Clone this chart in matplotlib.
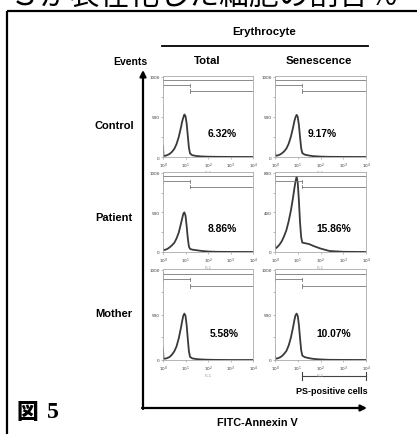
import matplotlib
matplotlib.use('Agg')
import matplotlib.pyplot as plt

W, H = 417, 435

fl1_log = [0.0, 0.02, 0.1, 0.2, 0.3, 0.4, 0.5, 0.6, 0.7, 0.8, 0.85, 0.9, 0.95,
           1.0, 1.05, 1.1, 1.15, 1.2, 1.3, 1.5, 1.7, 2.0, 2.4, 3.0, 4.0]

# event counts, one list per panel
ctrl_total = [140, 15, 15, 25, 40, 65, 100, 160, 250, 370, 440, 490, 530,
              510, 420, 270, 120, 45, 22, 12, 7, 4, 2, 1, 0]
ctrl_sen = [60, 15, 18, 28, 45, 70, 105, 165, 255, 375, 445, 495, 525,
            500, 400, 250, 110, 50, 30, 18, 10, 5, 2, 1, 0]
pat_total = [40, 25, 28, 40, 60, 85, 115, 170, 245, 360, 420, 480, 500,
             460, 330, 180, 70, 40, 30, 22, 14, 6, 2, 1, 0]
pat_sen = [70, 35, 50, 75, 110, 160, 220, 310, 420, 560, 640, 710, 760,
           700, 520, 300, 150, 95, 90, 80, 60, 35, 10, 2, 0]
mom_total = [130, 15, 15, 22, 35, 60, 95, 150, 240, 360, 430, 490, 515,
             490, 390, 240, 100, 35, 18, 10, 6, 3, 1, 0, 0]
mom_sen = [35, 15, 17, 27, 42, 68, 100, 160, 250, 370, 440, 495, 515,
           490, 390, 245, 110, 50, 32, 20, 12, 6, 2, 1, 0]

rows = ['Control', 'Patient', 'Mother']
cols = ['Total', 'Senescence']
counts = [[ctrl_total, ctrl_sen], [pat_total, pat_sen], [mom_total, mom_sen]]
percents = [['6.32%', '9.17%'], ['8.86%', '15.86%'], ['5.58%', '10.07%']]
ymax = [[1000, 1000], [1000, 800], [1000, 1000]]
gate_split = 1.2  # PS-positive boundary, log10 FL1

sans = 'Liberation Sans'

fig = plt.figure(figsize=(W / 100, H / 100), dpi=100)

# overlay in pixel coordinates for frame, arrows and labels
ov = fig.add_axes([0, 0, 1, 1])
ov.set_xlim(0, W)
ov.set_ylim(H, 0)
ov.axis('off')

# caption line above, cut by the page edge as in the scan
ov.text(-20, 5, 'ＰＳが表在化した細胞の割合％', fontsize=21.5,
        family='Noto Sans CJK JP', va='baseline', ha='left')
ov.add_patch(plt.Rectangle((7, 12), 440, 450, fill=False, lw=1.6, color='k'))

ov.text(264, 32, 'Erythrocyte', family=sans, weight='bold', fontsize=8.2,
        ha='center', va='center')
ov.plot([162, 368], [47, 47], color='k', lw=1.3)
ov.text(130, 62, 'Events', family=sans, weight='bold', fontsize=7.5,
        ha='center', va='center')
ov.text(207, 61, cols[0], family=sans, weight='bold', fontsize=8.2,
        ha='center', va='center')
ov.text(319, 61, cols[1], family=sans, weight='bold', fontsize=8.2,
        ha='center', va='center')

ov.annotate('', xy=(143, 71), xytext=(143, 410),
            arrowprops=dict(arrowstyle='-|>', lw=1.6, color='k', mutation_scale=9,
                            shrinkA=0, shrinkB=0))
ov.annotate('', xy=(367, 409), xytext=(142, 409),
            arrowprops=dict(arrowstyle='-|>', lw=1.6, color='k', mutation_scale=9,
                            shrinkA=0, shrinkB=0))
ov.text(257, 423, 'FITC-Annexin V', family=sans, weight='bold', fontsize=7.8,
        ha='center', va='center')

ov.plot([302, 366], [377, 377], color='#444', lw=0.8)
ov.plot([302, 302], [373, 381], color='#444', lw=0.8)
ov.plot([366, 366], [373, 381], color='#444', lw=0.8)
ov.text(332, 392, 'PS-positive cells', family=sans, weight='bold', fontsize=6.5,
        ha='center', va='center')

ov.text(17, 413, '図', family='Noto Sans CJK JP', weight='heavy', fontsize=15.5,
        ha='left', va='center')
ov.text(47, 413, '5', family='Liberation Serif', weight='bold', fontsize=17,
        ha='left', va='center')

row_label_y = [126, 218, 314]
for i, name in enumerate(rows):
    ov.text(95, row_label_y[i], name, family=sans, weight='bold', fontsize=8,
            ha='left', va='center')

col_x = [163, 275]
col_w = [90, 91]
row_top = [77, 173, 270]
row_bot = [158, 253, 361]
pct_x = [[0.66, 0.52], [0.655, 0.65], [0.68, 0.65]]

for i in range(3):
    for j in range(2):
        x0, w = col_x[j], col_w[j]
        y0, y1 = row_top[i], row_bot[i]
        ax = fig.add_axes([x0 / W, 1 - y1 / H, w / W, (y1 - y0) / H])
        ax.plot(fl1_log, counts[i][j], color='#3a3a3a', lw=1.3)
        top = ymax[i][j]
        ax.set_xlim(0, 4)
        ax.set_ylim(0, top * 1.01)
        ax.set_xticks([0, 1, 2, 3, 4])
        ax.set_xticklabels(['$10^{%d}$' % k for k in range(5)])
        ax.set_yticks([0, top / 2, top])
        ax.set_yticklabels([str(int(v)) for v in [0, top / 2, top]])
        ax.set_yticks([top / 4, top * 3 / 4], minor=True)
        ax.tick_params(labelsize=3, length=1.5, width=0.4, color='#888',
                       labelcolor='#333', pad=1)
        ax.tick_params(which='minor', length=1.2, width=0.4, color='#888')
        ax.set_xlabel('FL1', fontsize=3, color='#999', labelpad=0.5)
        for s in ax.spines.values():
            s.set_color('#aaa')
            s.set_linewidth(0.6)

        # gate markers (all events, negative, PS-positive)
        tr = ax.get_xaxis_transform()
        gates = [(0.02, 3.98, 0.945), (0.02, gate_split, 0.885),
                 (gate_split, 3.98, 0.815)]
        for a, b, lev in gates:
            ax.plot([a, b], [lev, lev], transform=tr, color='#777', lw=0.6)
            for e in (a, b):
                ax.plot([e, e], [lev - 0.02, lev + 0.02], transform=tr,
                        color='#777', lw=0.6)

        ax.text(pct_x[i][j], 0.3, percents[i][j], transform=ax.transAxes,
                family=sans, weight='bold', fontsize=7.4, ha='center', va='center')

fig.savefig('out.png', dpi=100)
